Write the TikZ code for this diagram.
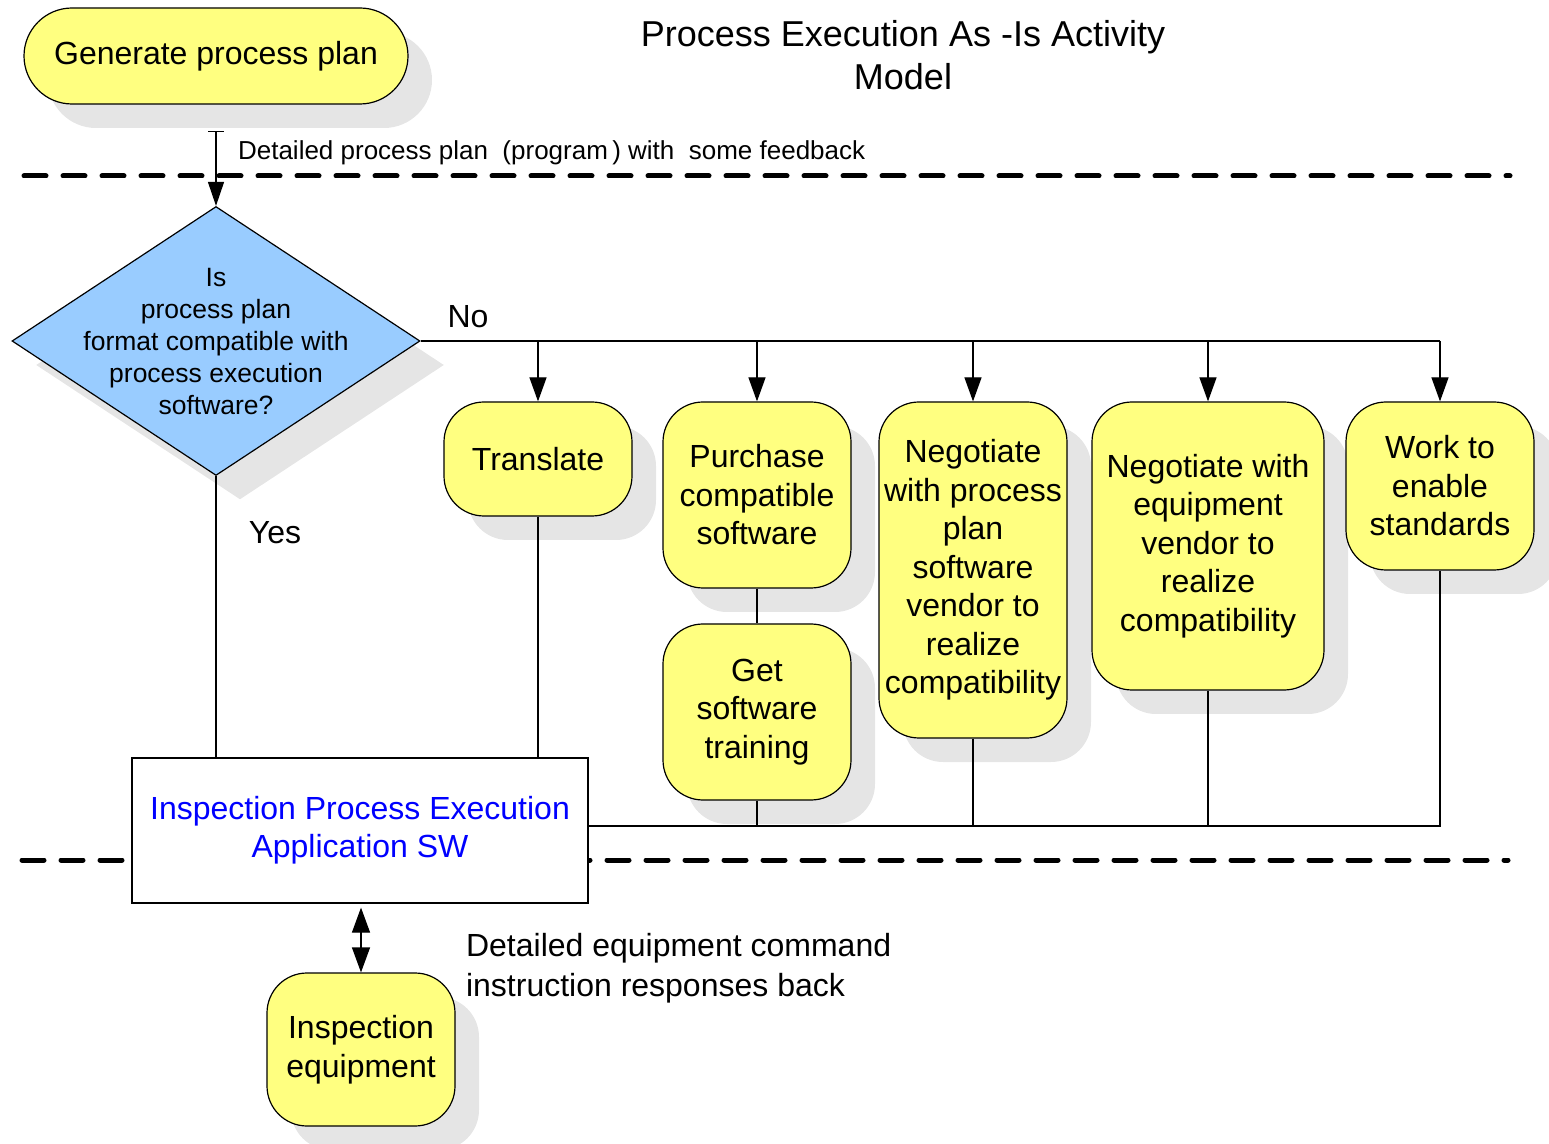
\documentclass[tikz,border=0pt]{standalone}
\usepackage{fontspec}
\setmainfont{Liberation Sans}
\usetikzlibrary{arrows.meta,shapes.geometric,shadows}
\definecolor{boxyellow}{RGB}{255,255,128}
\definecolor{diablue}{RGB}{153,204,255}
\definecolor{shadowgray}{RGB}{229,229,229}
\begin{document}
\begin{tikzpicture}[x=0.5pt,y=-0.5pt,
  shad/.style={drop shadow={shadow xshift=12pt,shadow yshift=-12pt,fill=shadowgray,opacity=1}},
  actbox/.style={draw=black,line width=0.6pt,fill=boxyellow,rounded corners=20pt,minimum width=94pt,
     align=center,inner sep=1pt,font=\fontsize{16}{19.25}\selectfont,shad},
  conn/.style={line width=0.6pt},
  arr/.style={conn,-{Triangle[length=12pt,width=8.5pt]}},
  dashline/.style={line width=2.5pt,line cap=round,dash pattern=on 11pt off 8.5pt},
  lbl/.style={font=\fontsize{16}{20}\selectfont,align=left}]
\useasboundingbox (0,0) rectangle (1549,1144);
% dashed separators
\draw[dashline] (24,176) -- (1510,176);
\draw[dashline] (22,860) -- (1508,860);
% title
\node[align=center,font=\fontsize{18}{21.5}\selectfont] (title) at (903,55) {Process Execution As -Is Activity\\Model};
% nodes
\node[actbox,minimum width=192pt,minimum height=48pt,rounded corners=24pt] (gen) at (216,56) {Generate process plan};
\node[diamond,draw=black,line width=0.6pt,fill=diablue,minimum width=204pt,minimum height=134.5pt,inner sep=0pt,shad] (dia) at (216,341) {};
\node[align=center,font=\fontsize{13.25}{16}\selectfont] (diatext) at (216,342) {Is\\process plan\\format compatible with\\process execution\\software?};
\node[actbox,minimum height=57pt] (translate) at (538,459) {Translate};
\node[actbox,minimum height=93pt] (purchase) at (757,495) {Purchase\\compatible\\software};
\node[actbox,minimum height=88pt] (get) at (757,712) {Get\\software\\training};
\node[actbox,minimum height=168pt] (neg1) at (973,570) {Negotiate\\with process\\plan\\software\\vendor to\\realize\\compatibility};
\node[actbox,minimum width=116pt,minimum height=144pt] (neg2) at (1208,546) {Negotiate with\\equipment\\vendor to\\realize\\compatibility};
\node[actbox,minimum height=84pt] (work) at (1440,486) {Work to\\enable\\standards};
\node[draw=black,line width=0.6pt,fill=white,minimum width=228pt,minimum height=72.5pt,align=center,
      text=blue,font=\fontsize{16}{19}\selectfont] (sw) at (360,830.5) {Inspection Process Execution\\Application SW};
\node[actbox,minimum height=76.5pt] (equip) at (361,1049.5) {Inspection\\equipment};
% start connector
\coordinate (s0) at ([yshift=-13pt]gen.south);
\draw[conn,{Bar[width=8pt]}-{Triangle[length=12pt,width=8pt]}] (s0) -- (dia.north);
\node[anchor=west,font=\fontsize{13}{15}\selectfont] (lab1) at (231,153) {Detailed process plan\ \ (program\,) with\ \ some feedback};
% No branch
\draw[conn] (dia.east) -- (work.north |- dia.east);
\draw[arr] (translate.north |- dia.east) -- (translate.north);
\draw[arr] (purchase.north |- dia.east) -- (purchase.north);
\draw[arr] (neg1.north |- dia.east) -- (neg1.north);
\draw[arr] (neg2.north |- dia.east) -- (neg2.north);
\draw[arr] (work.north |- dia.east) -- (work.north);
\node[lbl] (no) at (468,317) {No};
% Yes branch
\draw[conn] (dia.south) -- (dia.south |- sw.north);
\node[lbl] (yes) at (275,533) {Yes};
\draw[conn] (translate.south) -- (translate.south |- sw.north);
\draw[conn] (purchase.south) -- (get.north);
% bottom bus
\coordinate (busL) at ([yshift=2.25pt]sw.east);
\draw[conn] (busL) -- (work.south |- busL) -- (work.south);
\draw[conn] (get.south) -- (get.south |- busL);
\draw[conn] (neg1.south) -- (neg1.south |- busL);
\draw[conn] (neg2.south) -- (neg2.south |- busL);
% equipment link
\draw[conn,{Triangle[length=12.5pt,width=9pt]}-{Triangle[length=12.5pt,width=9pt]}] ([yshift=-2pt]sw.south -| equip.north) -- (equip.north);
\node[lbl,anchor=west] (lab2) at (459,968) {Detailed equipment command\\instruction responses back};
\end{tikzpicture}
\end{document}
